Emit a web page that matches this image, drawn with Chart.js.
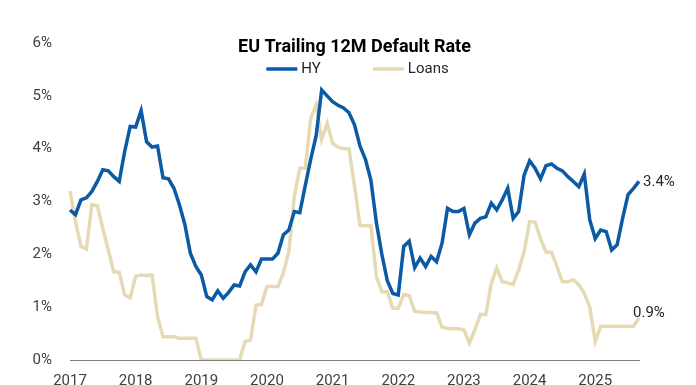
<!DOCTYPE html>
<html>
<head>
<meta charset="utf-8">
<script src="https://cdn.jsdelivr.net/npm/chart.js@4.4.1/dist/chart.umd.min.js"></script>
<style>
  html, body { margin: 0; padding: 0; background: #fff; overflow: hidden; }
  #wrap { width: 696px; height: 402px; }
</style>
</head>
<body>
<div id="wrap"><canvas id="defaultRate"></canvas></div>
<script>
const years = ['2017', '2018', '2019', '2020', '2021', '2022', '2023', '2024', '2025'];
const lastMonth = 9; // series run to Sep 2025

const hy = [
  2.84, 2.75, 3.03, 3.07, 3.19, 3.38, 3.60, 3.58, 3.47, 3.38, 3.95, 4.42,
  4.41, 4.72, 4.13, 4.03, 4.05, 3.45, 3.43, 3.25, 2.94, 2.56, 2.02, 1.77,
  1.61, 1.20, 1.14, 1.31, 1.17, 1.28, 1.42, 1.40, 1.67, 1.80, 1.67, 1.91,
  1.91, 1.91, 2.02, 2.37, 2.46, 2.81, 2.79, 3.30, 3.80, 4.25, 5.11, 5.00,
  4.89, 4.82, 4.77, 4.68, 4.45, 4.05, 3.80, 3.40, 2.60, 2.00, 1.50, 1.26,
  1.23, 2.15, 2.25, 1.75, 1.93, 1.77, 1.96, 1.86, 2.21, 2.87, 2.81, 2.81,
  2.87, 2.37, 2.59, 2.68, 2.71, 2.97, 2.84, 3.03, 3.25, 2.68, 2.81, 3.50,
  3.77, 3.63, 3.43, 3.68, 3.71, 3.63, 3.58, 3.47, 3.38, 3.28, 3.52, 2.65,
  2.30, 2.46, 2.43, 2.08, 2.18, 2.68, 3.13, 3.25, 3.38
];

const loans = [
  3.20, 2.62, 2.15, 2.10, 2.94, 2.92, 2.49, 2.08, 1.67, 1.66, 1.23, 1.18,
  1.58, 1.61, 1.60, 1.61, 0.82, 0.44, 0.44, 0.44, 0.41, 0.41, 0.41, 0.41,
  0.00, 0.00, 0.00, 0.00, 0.00, 0.00, 0.00, 0.00, 0.35, 0.38, 1.04, 1.05,
  1.39, 1.39, 1.39, 1.65, 2.05, 3.10, 3.63, 3.63, 4.58, 4.83, 4.17, 4.48,
  4.10, 4.03, 4.00, 4.00, 3.30, 2.55, 2.54, 2.54, 1.58, 1.29, 1.29, 0.98,
  0.98, 1.24, 1.22, 0.92, 0.91, 0.90, 0.90, 0.89, 0.62, 0.60, 0.59, 0.59,
  0.57, 0.32, 0.57, 0.86, 0.86, 1.45, 1.74, 1.48, 1.46, 1.43, 1.70, 2.05,
  2.62, 2.61, 2.30, 2.04, 2.04, 1.77, 1.48, 1.48, 1.52, 1.42, 1.26, 1.00,
  0.35, 0.64, 0.64, 0.64, 0.64, 0.64, 0.64, 0.64, 0.80
];

const endText = ['3.4%', '0.9%'];
const endOffset = [[4, 1], [-6, -4]]; // nudge of each end label from the last point

// one category per month, ticks show the year on January
const months = [];
years.forEach(y => {
  for (let m = 1; m <= 12; m++) {
    if (y === years[years.length - 1] && m > lastMonth) break;
    months.push(y + '-' + String(m).padStart(2, '0'));
  }
});

Chart.defaults.font.family = 'Roboto';
Chart.defaults.color = '#404040';

// legend row inside the plot + labels at the right end of each line
const overlay = {
  id: 'overlay',
  afterDatasetsDraw(chart) {
    const ctx = chart.ctx;
    const area = chart.chartArea;
    ctx.save();
    ctx.font = '15px Roboto';
    ctx.fillStyle = '#262626';
    ctx.textBaseline = 'middle';

    chart.data.datasets.forEach((ds, i) => {
      const pts = chart.getDatasetMeta(i).data;
      const p = pts[pts.length - 1];
      ctx.fillText(endText[i], p.x + endOffset[i][0], p.y + endOffset[i][1]);
    });

    const sample = 31, gap = 4, spacing = 52;
    const widths = chart.data.datasets.map(ds => sample + gap + ctx.measureText(ds.label).width);
    const total = widths.reduce((a, b) => a + b, 0) + spacing * (widths.length - 1);
    let x = (area.left + area.right) / 2 + 3 - total / 2;
    const y = area.top + 26;
    chart.data.datasets.forEach((ds, i) => {
      ctx.strokeStyle = ds.borderColor;
      ctx.lineWidth = ds.borderWidth;
      ctx.beginPath();
      ctx.moveTo(x, y);
      ctx.lineTo(x + sample, y);
      ctx.stroke();
      ctx.fillText(ds.label, x + sample + gap, y);
      x += widths[i] + spacing;
    });
    ctx.restore();
  }
};

new Chart(document.getElementById('defaultRate'), {
  type: 'line',
  data: {
    labels: months,
    datasets: [
      { label: 'HY', data: hy, borderColor: '#0b5aa5', borderWidth: 3.5 },
      { label: 'Loans', data: loans, borderColor: '#e6dab4', borderWidth: 3.5 }
    ]
  },
  options: {
    responsive: true,
    maintainAspectRatio: false,
    animation: false,
    elements: { point: { radius: 0 }, line: { tension: 0 } },
    layout: { padding: { left: 31, right: 57, top: 0, bottom: 0 } },
    plugins: {
      tooltip: { enabled: false },
      legend: { display: false },
      // the title sits inside the plot, so its bottom padding overlaps it
      title: {
        display: true,
        fullSize: false,
        text: 'EU Trailing 12M Default Rate',
        color: '#000',
        font: { size: 18, weight: 'bold' },
        padding: { top: 37, bottom: -15.6 }
      }
    },
    scales: {
      x: {
        grid: { display: false, drawTicks: false },
        border: { display: true, color: '#808080', width: 1 },
        ticks: {
          autoSkip: false,
          maxRotation: 0,
          padding: 12,
          font: { size: 15 },
          callback(val) {
            const lab = this.getLabelForValue(val);
            return lab.endsWith('-01') ? lab.slice(0, 4) : null;
          }
        }
      },
      y: {
        min: 0,
        max: 6,
        afterFit(scale) { scale.width = 39; },
        grid: { display: false, drawTicks: false },
        border: { display: false },
        ticks: {
          stepSize: 1,
          padding: 18,
          font: { size: 15 },
          callback: v => v + '%'
        }
      }
    }
  },
  plugins: [overlay]
});
</script>
</body>
</html>
